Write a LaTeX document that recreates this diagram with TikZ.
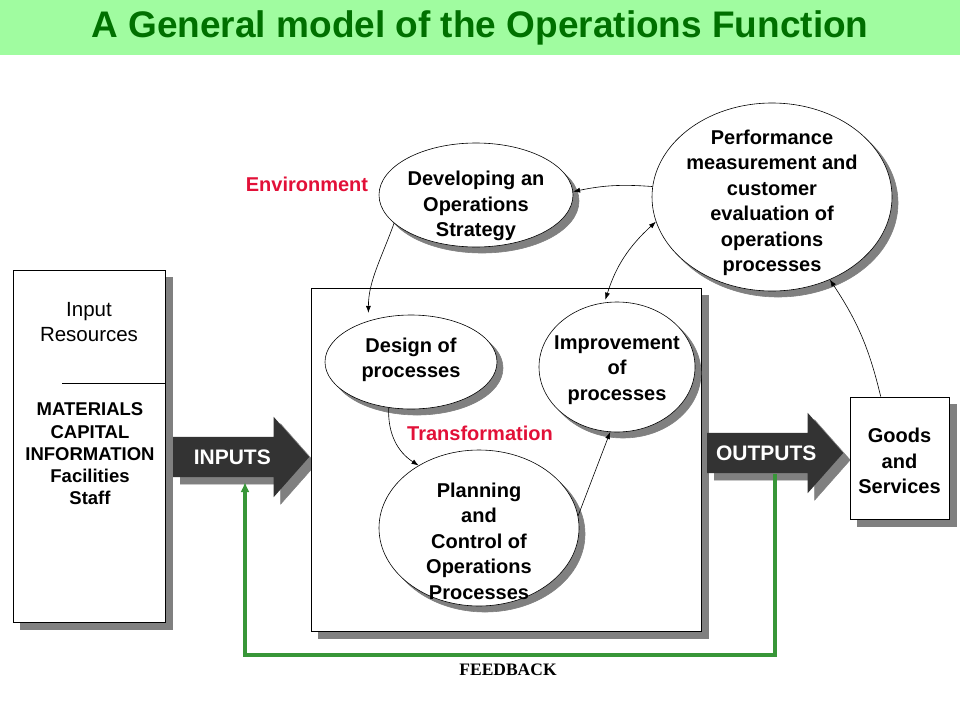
\documentclass[tikz,border=0pt]{standalone}
\usepackage{fontspec}
\setmainfont{Liberation Sans}
\newfontfamily\fbfont{Liberation Serif}
\usetikzlibrary{shapes.geometric,shapes.arrows,shadows,arrows.meta}
\definecolor{bandgreen}{RGB}{160,252,160}
\definecolor{titlegreen}{RGB}{0,112,0}
\definecolor{envred}{RGB}{226,16,56}
\definecolor{fbgreen}{RGB}{56,150,56}
\definecolor{shade}{RGB}{128,128,128}
\definecolor{arrowgrey}{RGB}{51,51,51}

\begin{document}
\begin{tikzpicture}[x=1pt,y=-1pt,
		box/.style={draw, fill=white, line width=0.8pt, inner sep=0pt,
			copy shadow={shadow xshift=7pt, shadow yshift=-7pt, fill=shade, draw=shade}},
		proc/.style={ellipse, draw, fill=white, line width=0.6pt, inner sep=0pt,
			copy shadow={shadow xshift=6pt, shadow yshift=-6pt, fill=shade, draw=shade}},
		txt/.style={align=center, font=\fontsize{20}{25.5}\selectfont\bfseries},
		redtxt/.style={text=envred, font=\fontsize{20}{24}\selectfont\bfseries},
		flow/.style={single arrow, fill=arrowgrey, text=white, anchor=tail,
			font=\fontsize{21}{25}\selectfont\bfseries, minimum height=136pt,
			text height=15pt, text depth=0pt, inner ysep=12.5pt, inner xsep=0pt,
			single arrow head extend=20pt, single arrow tip angle=97,
			copy shadow={shadow xshift=7pt, shadow yshift=-7pt, fill=shade, draw=shade}},
		link/.style={-{Latex[length=7pt,width=5pt]}, line width=0.6pt},
		feedback/.style={-{Latex[length=10pt,width=9pt]}, fbgreen, line width=3.5pt}]
		\useasboundingbox (0,0) rectangle (960,720);
		\fill[bandgreen] (0,0) rectangle (960,55);
		\node[text=titlegreen, font=\fontsize{37}{40}\selectfont\bfseries] at (480,28) (title) {A General model of the Operations Function};
		
		% input resources
		\node[box, minimum width=152pt, minimum height=352pt] at (89,446) (inres) {};
		\node[align=center, font=\fontsize{20.5}{25}\selectfont] at (89,322) (inres-t) {Input\\Resources};
		\draw[line width=0.8pt] (62,383) -- (165,383);
		\node[align=center, font=\fontsize{18.5}{22.3}\selectfont\bfseries] at (90,454) (inlist) {MATERIALS\\CAPITAL\\INFORMATION\\Facilities\\Staff};
		\node[flow] at (173,457) (inp) {INPUTS};
		
		% transformation
		\node[box, minimum width=390pt, minimum height=343pt] at (506,459.5) (trans) {};
		\node[proc, minimum width=172pt, minimum height=94pt] at (411,362) (design) {};
		\node[txt] at (411,360) (design-t) {Design of\\processes};
		\node[proc, minimum width=156pt, minimum height=130pt] at (617,367) (impr) {};
		\node[txt] at (617,370) (impr-t) {Improvement\\of\\processes};
		\node[proc, minimum width=200pt, minimum height=156pt] at (479,528) (plan) {};
		\node[txt] at (479,541) (plan-t) {Planning\\and\\Control of\\Operations\\Processes};
		\node[redtxt] at (480,433) (transf) {Transformation};
		
		% outputs
		\node[flow] at (707,453) (outp) {OUTPUTS};
		\node[box, minimum width=99pt, minimum height=122pt] at (899.5,458) (goods) {};
		\node[txt] at (899.5,461) (goods-t) {Goods\\and\\Services};
		
		% strategy and performance
		\node[redtxt] at (307,184) (env) {Environment};
		\node[proc, minimum width=194pt, minimum height=104pt] at (476,195) (dev) {};
		\node[txt] at (476,206) (dev-t) {Developing an\\Operations\\Strategy};
		\node[proc, minimum width=240pt, minimum height=188pt] at (772,197) (perf) {};
		\node[txt] at (772,203) (perf-t) {Performance\\measurement and\\customer\\evaluation of\\operations\\processes};
		
		\draw[link] (perf.175) to[bend right=8] (dev.2);
		\draw[link, shorten >=8pt] (dev.199) to[out=250, in=90] (design.136);
		\draw[link, {Latex[length=7pt,width=5pt]}-{Latex[length=7pt,width=5pt]}, shorten <=3pt] (impr.101) to[bend left=15] (perf.192);
		\draw[link] (design.244) to[bend right=30] (plan.134);
		\draw[link] (plan.7) -- (impr.264);
		\draw[link] (goods.107) to[bend right=10] (perf.305);
		
		% feedback loop
		\coordinate (fb-out) at (775,474);
		\coordinate (fb-corner) at (245,655);
		\coordinate (fb-in) at (245,482);
		\draw[feedback] (fb-out) |- (fb-corner) -- (fb-in);
		\node[font=\fontsize{17.5}{20}\selectfont\fbfont\bfseries] at (508,670) (fb) {FEEDBACK};
	\end{tikzpicture}
\end{document}
